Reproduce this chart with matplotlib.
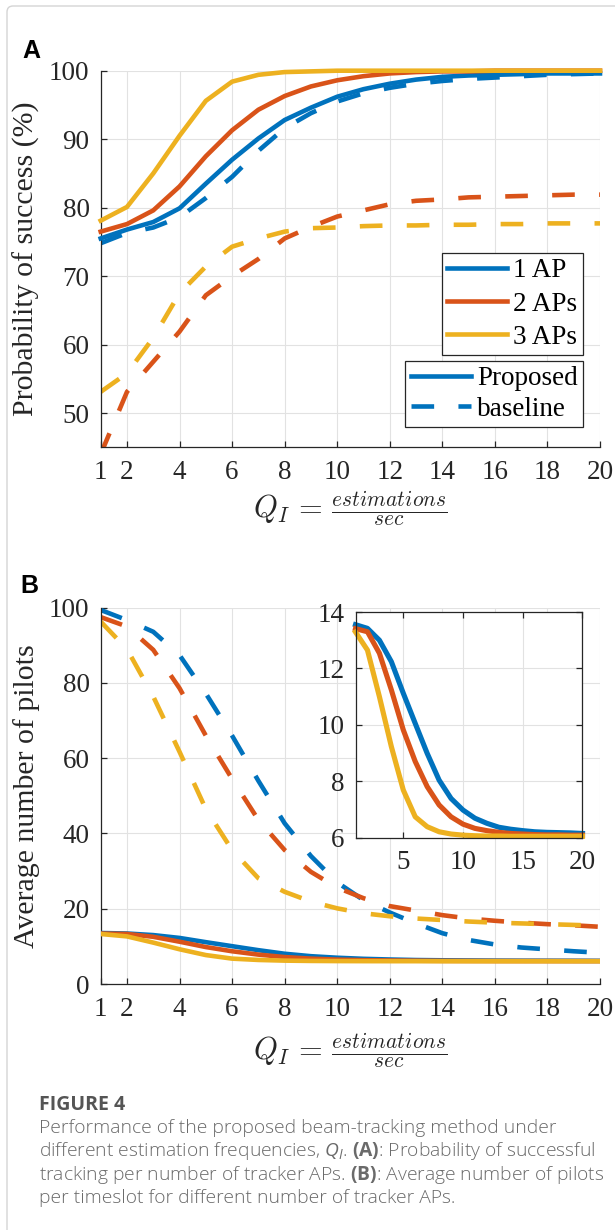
import numpy as np
import matplotlib
matplotlib.use("Agg")
import matplotlib.pyplot as plt
from matplotlib.lines import Line2D
from matplotlib.patches import FancyBboxPatch
from matplotlib.transforms import IdentityTransform

SERIF = "Liberation Serif"
plt.rcParams["font.family"] = "serif"
plt.rcParams["font.serif"] = [SERIF, "DejaVu Serif"]
plt.rcParams["mathtext.fontset"] = "cm"
plt.rcParams["mathtext.rm"] = "Open Sans"
plt.rcParams["mathtext.it"] = "Open Sans:italic"
plt.rcParams["mathtext.bf"] = "Open Sans:bold"
plt.rcParams["lines.scale_dashes"] = False

# --- dados ---
q = np.arange(1, 21)  # estimativas por segundo

# (A) probabilidade de sucesso (%)
prop_1ap = [75.5, 76.8, 77.9, 79.9, 83.5, 87.0, 90.1, 92.8, 94.6, 96.2,
            97.3, 98.1, 98.7, 99.1, 99.3, 99.4, 99.5, 99.6, 99.6, 99.6]
prop_2ap = [76.5, 77.6, 79.6, 83.1, 87.5, 91.3, 94.3, 96.3, 97.7, 98.6,
            99.2, 99.6, 99.8, 99.9, 99.9, 100, 100, 100, 100, 100]
prop_3ap = [78.1, 80.1, 85.0, 90.5, 95.6, 98.4, 99.4, 99.8, 99.9, 100,
            100, 100, 100, 100, 100, 100, 100, 100, 100, 100]
base_1ap = [74.8, 76.3, 77.1, 78.6, 81.4, 84.5, 88.3, 91.6, 93.8, 95.5,
            96.7, 97.5, 98.1, 98.5, 98.8, 99.0, 99.2, 99.4, 99.5, 99.6]
base_2ap = [44.0, 53.1, 57.5, 61.9, 67.2, 70.0, 72.5, 75.5, 77.2, 78.7,
            79.6, 80.5, 81.0, 81.2, 81.5, 81.6, 81.7, 81.8, 81.9, 81.9]
base_3ap = [53.1, 55.8, 61.0, 67.5, 71.4, 74.3, 75.5, 76.5, 77.0, 77.1,
            77.3, 77.4, 77.4, 77.5, 77.5, 77.6, 77.6, 77.7, 77.7, 77.7]

# (B) numero medio de pilotos
pil_1ap = [13.55, 13.42, 13.0, 12.24, 11.12, 10.05, 8.99, 8.04, 7.39, 6.98,
           6.69, 6.51, 6.37, 6.30, 6.25, 6.21, 6.19, 6.18, 6.17, 6.15]
pil_2ap = [13.41, 13.3, 12.54, 11.24, 9.82, 8.70, 7.81, 7.16, 6.74, 6.48,
           6.33, 6.25, 6.19, 6.15, 6.13, 6.11, 6.10, 6.10, 6.09, 6.09]
pil_3ap = [13.29, 12.65, 11.0, 9.23, 7.69, 6.74, 6.39, 6.21, 6.13, 6.09,
           6.07, 6.06, 6.06, 6.05, 6.05, 6.05, 6.05, 6.05, 6.05, 6.05]
pilb_1ap = [99.4, 96.7, 93.6, 87.4, 77.2, 66.0, 54.0, 42.7, 34.0, 27.0,
            22.3, 19.0, 16.1, 13.5, 11.7, 10.5, 9.7, 9.2, 8.7, 8.3]
pilb_2ap = [97.5, 95.0, 88.8, 78.6, 66.0, 54.5, 43.6, 35.6, 29.8, 25.6,
            22.8, 20.7, 19.5, 18.3, 17.4, 16.8, 16.3, 15.9, 15.6, 15.2]
pilb_3ap = [96.3, 89.0, 76.4, 61.7, 46.5, 35.6, 28.1, 24.5, 21.9, 20.1,
            18.8, 18.0, 17.4, 17.0, 16.6, 16.3, 16.1, 15.9, 15.7, 15.5]

ap_labels = ["1 AP", "2 APs", "3 APs"]
cores = ["#0072BD", "#D95319", "#EDB120"]
xticks = [1, 2, 4, 6, 8, 10, 12, 14, 16, 18, 20]

LW = 3.3
DASH = (16.3, 17.5)
FS = 19.5
FSL = 21.5  # rotulos dos eixos (1.1x, como no MATLAB)
W, H = 615, 1230

fig = plt.figure(figsize=(W / 100, H / 100), dpi=100)


def caixa(l, t, r, b):
    return [l / W, 1 - b / H, (r - l) / W, (b - t) / H]


def estilo(ax, fechado=False):
    ax.grid(True, color="#e2e2e2", lw=0.8)
    ax.set_axisbelow(True)
    ax.spines["top"].set_visible(fechado)
    ax.spines["right"].set_visible(fechado)
    for s in ax.spines.values():
        s.set_color("#262626")
        s.set_linewidth(0.9)
    ax.tick_params(direction="in", length=4, width=0.9, color="#262626",
                   labelcolor="#262626", labelsize=FS, labelfontfamily=SERIF,
                   top=fechado, right=fechado)
    ax.tick_params(axis="x", pad=9)
    ax.tick_params(axis="y", pad=8)


xlab = r"$Q_I\,=\,\frac{estimations}{sec}$"
lab_kw = dict(fontsize=FSL, family=SERIF, color="#262626")

# ---------- painel A ----------
axA = fig.add_axes(caixa(100.7, 70.7, 600, 447.3))
estilo(axA)
for yp, c in zip([prop_1ap, prop_2ap, prop_3ap], cores):
    axA.plot(q, yp, color=c, lw=LW, clip_on=False, zorder=3)
for yb, c in zip([base_1ap, base_2ap, base_3ap], cores):
    axA.plot(q, yb, color=c, lw=LW, dashes=DASH, zorder=2)
axA.set_xlim(1, 20)
axA.set_ylim(45, 100)
axA.set_xticks(xticks)
axA.set_yticks([50, 60, 70, 80, 90, 100])
axA.set_ylabel("Probability of success (%)", **lab_kw)
axA.yaxis.set_label_coords(-0.122, 0.5)
axA.set_xlabel(xlab, fontsize=22, color="#262626")
axA.xaxis.set_label_coords(0.5, -0.11)

h1 = [Line2D([], [], color=c, lw=LW) for c in cores]
leg1 = axA.legend(h1, ap_labels, loc="upper right", bbox_to_anchor=(0.966, 0.516),
                  borderaxespad=0, prop=dict(family=SERIF, size=FS),
                  handlelength=2.2, handletextpad=0.25, borderpad=0.2,
                  labelspacing=0.3, fancybox=False, framealpha=1, edgecolor="#262626")
leg1.get_frame().set_linewidth(0.9)
axA.add_artist(leg1)
h2 = [Line2D([], [], color=cores[0], lw=LW),
      Line2D([], [], color=cores[0], lw=LW, dashes=DASH)]
leg2 = axA.legend(h2, ["Proposed", "baseline"], loc="upper right",
                  bbox_to_anchor=(0.966, 0.229), borderaxespad=0,
                  prop=dict(family=SERIF, size=FS), handlelength=2.25,
                  handletextpad=0.2, borderpad=0.2, labelspacing=0.2,
                  fancybox=False, framealpha=1, edgecolor="#262626")
leg2.get_frame().set_linewidth(0.9)

# ---------- painel B ----------
axB = fig.add_axes(caixa(100.7, 607.7, 600, 984))
estilo(axB)
for yp, c in zip([pil_1ap, pil_2ap, pil_3ap], cores):
    axB.plot(q, yp, color=c, lw=LW, zorder=3)
for yb, c in zip([pilb_1ap, pilb_2ap, pilb_3ap], cores):
    axB.plot(q, yb, color=c, lw=LW, dashes=DASH, zorder=2)
axB.set_xlim(1, 20)
axB.set_ylim(0, 100)
axB.set_xticks(xticks)
axB.set_yticks([0, 20, 40, 60, 80, 100])
axB.set_ylabel("Average number of pilots", **lab_kw)
axB.yaxis.set_label_coords(-0.122, 0.5)
axB.set_xlabel(xlab, fontsize=22, color="#262626")
axB.xaxis.set_label_coords(0.5, -0.125)

# inset
axI = fig.add_axes(caixa(355.5, 612, 582.5, 837.7))
estilo(axI, fechado=True)
for yp, c in zip([pil_1ap, pil_2ap, pil_3ap], cores):
    axI.plot(q, yp, color=c, lw=LW + 0.4, clip_on=False)
axI.set_xlim(1, 20)
axI.set_ylim(6, 14)
axI.set_xticks([5, 10, 15, 20])
axI.set_yticks([6, 8, 10, 12, 14])

# letras dos paineis
fig.text(22 / W, 1 - 58 / H, "A", family="Liberation Sans", weight="bold",
         fontsize=18, va="baseline")
fig.text(20 / W, 1 - 593 / H, "B", family="Liberation Sans", weight="bold",
         fontsize=18, va="baseline")

# moldura da pagina
fig.add_artist(FancyBboxPatch((7, -60), 700, H - 6 + 60,
                              boxstyle="round,pad=0,rounding_size=6",
                              transform=IdentityTransform(), fc="none",
                              ec="#d4d4d4", lw=1))

# legenda da figura
cap = dict(family="Open Sans", fontsize=13.9, weight="light", color="#6a6a6a",
           va="baseline", math_fontfamily="custom")
fig.text(39 / W, 1 - 1110 / H, "FIGURE 4", family="Open Sans", weight="bold",
         fontsize=14, color="#555555", va="baseline")
linhas = [
    "Performance of the proposed beam-tracking method under",
    r"different estimation frequencies, $Q_I$. $\mathbf{(A)}$: Probability of successful",
    r"tracking per number of tracker APs. $\mathbf{(B)}$: Average number of pilots",
    "per timeslot for different number of tracker APs.",
]
for i, s in enumerate(linhas):
    fig.text(39 / W, 1 - (1133 + 23.4 * i) / H, s, **cap)

fig.savefig("out.png", dpi=100)
